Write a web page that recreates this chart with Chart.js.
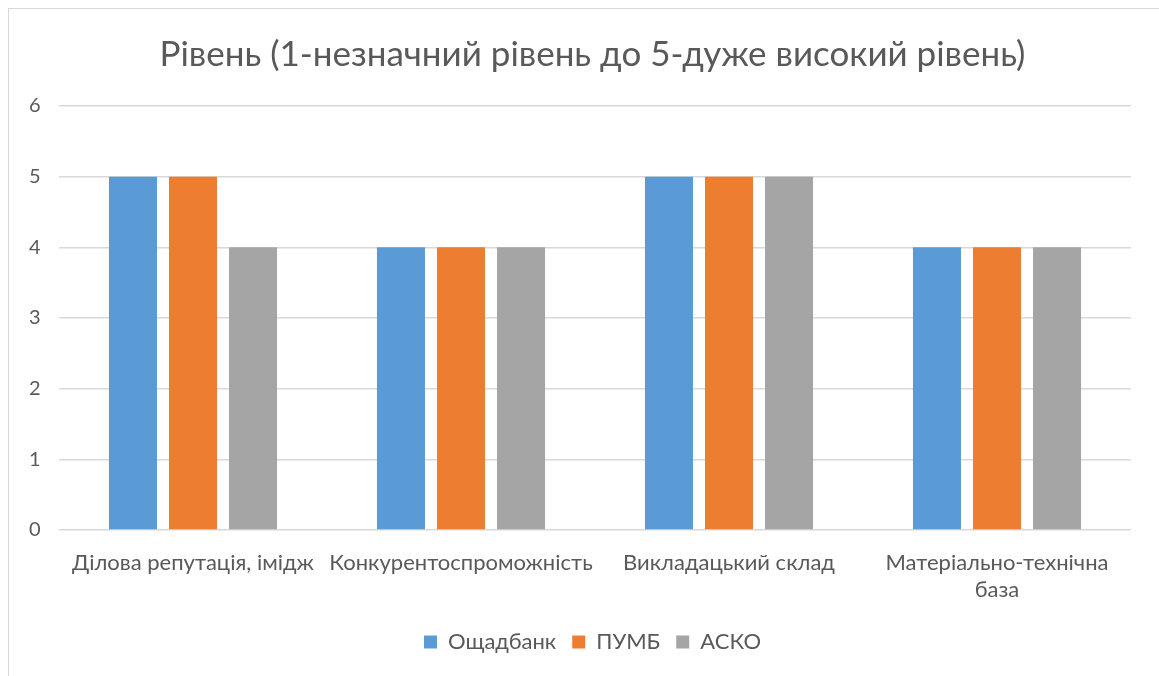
<!DOCTYPE html>
<html>
<head>
<meta charset="utf-8">
<script src="https://cdn.jsdelivr.net/npm/chart.js@4"></script>
<style>
  html, body { margin: 0; padding: 0; background: #fff; overflow: hidden; }
  #wrap { position: relative; width: 1159px; height: 676px; }
  #frame { position: absolute; left: 8px; top: 8px; width: 1200px; height: 700px; border: 1px solid #d9d9d9; }
  canvas { position: absolute; left: 0; top: 0; }
</style>
</head>
<body>
<div id="wrap">
  <div id="frame"></div>
  <canvas id="chart" width="1159" height="676"></canvas>
</div>
<script>
// chart data
const categories = [
  "Ділова репутація, імідж",
  "Конкурентоспроможність",
  "Викладацький склад",
  ["Матеріально-технічна", "база"],
];
const oshchadbank = [5, 4, 5, 4];
const pumb = [5, 4, 5, 4];
const asko = [4, 4, 5, 4];
const yTicks = [0, 1, 2, 3, 4, 5, 6];

const textColor = "#595959";
const gridColor = "#d9d9d9";
const font = "Lato";

new Chart(document.getElementById("chart").getContext("2d"), {
  type: "bar",
  data: {
    labels: categories,
    datasets: [
      { label: "Ощадбанк", data: oshchadbank, backgroundColor: "#5b9bd5" },
      { label: "ПУМБ", data: pumb, backgroundColor: "#ed7d31" },
      { label: "АСКО", data: asko, backgroundColor: "#a5a5a5" },
    ],
  },
  options: {
    responsive: false,
    animation: false,
    barPercentage: 0.8,
    categoryPercentage: 0.672,
    // left padding keeps title + legend centred over the plot, like the original
    layout: { padding: { left: 54, right: 28, top: 0, bottom: 13 } },
    plugins: {
      title: {
        display: true,
        text: "Рівень (1-незначний рівень до 5-дуже високий рівень)",
        color: textColor,
        font: { family: font, size: 35, weight: "normal" },
        padding: { top: 34, bottom: 30 },
      },
      legend: {
        position: "bottom",
        labels: {
          color: textColor,
          font: { family: font, size: 22 },
          boxWidth: 13,
          boxHeight: 13,
          padding: 16,
        },
      },
      tooltip: { enabled: false },
    },
    scales: {
      x: {
        grid: { display: false },
        border: { display: false },
        ticks: {
          color: textColor,
          font: { family: font, size: 22, lineHeight: 1.25 },
          padding: 11,
          maxRotation: 0,
          autoSkip: false,
        },
      },
      y: {
        min: 0,
        max: 6,
        afterBuildTicks: (scale) => {
          scale.ticks = yTicks.map((v) => ({ value: v }));
        },
        afterFit: (scale) => {
          scale.width = 5;
        },
        grid: { color: gridColor, lineWidth: 1.5, drawTicks: false },
        border: { display: false },
        // mirrored + negative padding puts the labels left of the plot without clipping
        ticks: {
          color: textColor,
          font: { family: font, size: 20 },
          mirror: true,
          padding: -30,
        },
      },
    },
  },
});
</script>
</body>
</html>
